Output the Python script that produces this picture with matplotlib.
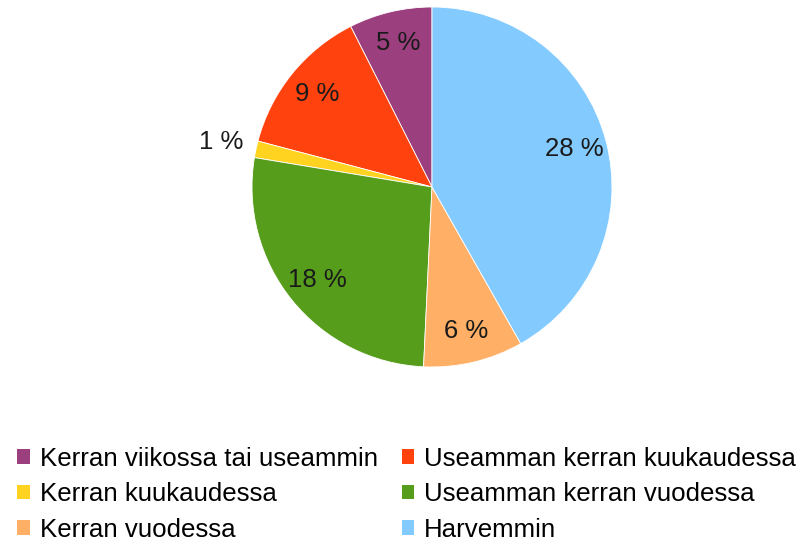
import matplotlib.pyplot as plt
from matplotlib.patches import Patch
import numpy as np

plt.rcParams['font.family'] = ['Liberation Sans', 'DejaVu Sans']

categories = ['Kerran viikossa tai useammin', 'Useamman kerran kuukaudessa',
              'Kerran kuukaudessa', 'Useamman kerran vuodessa',
              'Kerran vuodessa', 'Harvemmin']
values = [5, 9, 1, 18, 6, 28]
colors = ['#9b3f7e', '#ff420e', '#ffd320', '#579d1c', '#ffb066', '#83caff']

fig = plt.figure(figsize=(8.01, 5.42), dpi=100)
# pie centre at (432,187) px, radius 180 px
cx, cy, r = 432, 187, 180
W, H = 801, 542
ax = fig.add_axes([(cx - r) / W, 1 - (cy + r) / H, 2 * r / W, 2 * r / H])

wedges, _ = ax.pie(values, colors=colors, startangle=90, counterclock=True,
                   radius=1.0, wedgeprops=dict(linewidth=0.6, edgecolor='white'))
ax.set_xlim(-1, 1)
ax.set_ylim(-1, 1)
ax.set_aspect('equal')

for w, v in zip(wedges, values):
  mid = np.deg2rad((w.theta1 + w.theta2) / 2)
  rr = 1.2 if v < 3 else 0.82
  ax.text(rr * np.cos(mid), rr * np.sin(mid), '%d %%' % v, ha='center', va='center',
          fontsize=18.5, color='#1a1a1a')

handles = [Patch(facecolor=c, edgecolor='none') for c in colors]
# legend filled row by row in the reference, matplotlib fills by column
order = [0, 2, 4, 1, 3, 5]
fig.legend([handles[i] for i in order], [categories[i] for i in order],
           ncol=2, loc='upper left', bbox_to_anchor=(17 / W, 1 - 446.5 / H),
           frameon=False, fontsize=18.6, handlelength=0.5, handleheight=0.5,
           handletextpad=0.38, columnspacing=0.92, labelspacing=0.45, borderpad=0,
           borderaxespad=0)

fig.savefig('out.png', dpi=100)
